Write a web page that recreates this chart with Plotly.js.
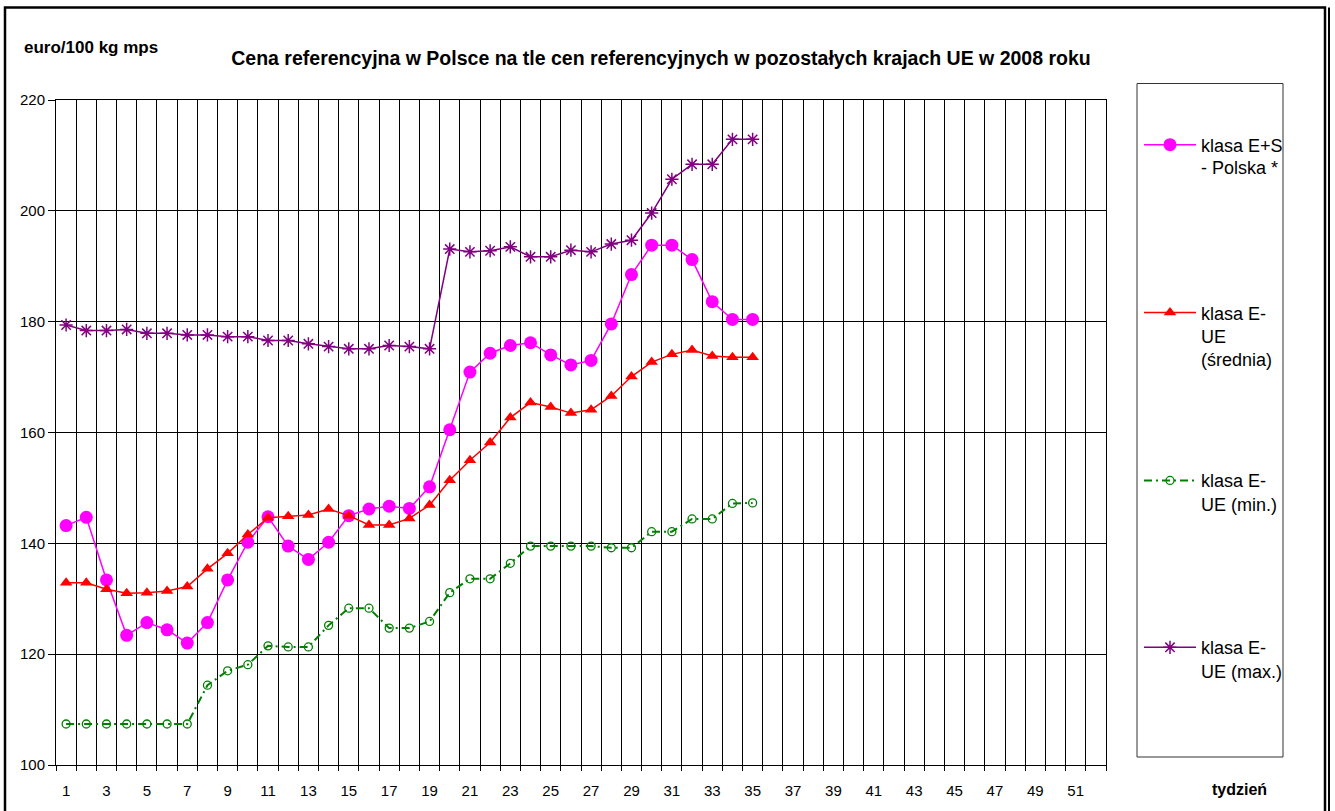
<!DOCTYPE html>
<html>
<head>
<meta charset="utf-8">
<script src="https://cdn.plot.ly/plotly-3.0.1.min.js"></script>
<style>html,body{margin:0;padding:0;background:#fff;}#chart{width:1335px;height:811px;}</style>
</head>
<body>
<div id="chart"></div>
<script>
// ---- data ----
const weeks = [1,2,3,4,5,6,7,8,9,10,11,12,13,14,15,16,17,18,19,20,21,22,23,24,25,26,27,28,29,30,31,32,33,34,35];
const polska = [143.2,144.7,133.4,123.4,125.7,124.4,122.0,125.7,133.4,140.2,144.8,139.5,137.1,140.2,145.0,146.2,146.7,146.3,150.2,160.5,170.9,174.3,175.7,176.2,174.0,172.2,173.0,179.6,188.5,193.8,193.8,191.2,183.6,180.4,180.4];
const ueSrednia = [132.9,132.9,131.7,131.0,131.1,131.4,132.2,135.4,138.2,141.6,144.6,144.9,145.1,146.2,145.0,143.3,143.3,144.5,146.9,151.4,155.0,158.2,162.7,165.4,164.6,163.5,164.1,166.6,170.1,172.7,174.1,174.9,173.8,173.6,173.6];
const ueMin = [107.4,107.4,107.4,107.4,107.4,107.4,107.4,114.4,117.0,118.1,121.5,121.3,121.3,125.2,128.3,128.3,124.7,124.7,125.9,131.1,133.6,133.6,136.4,139.5,139.5,139.5,139.5,139.2,139.2,142.1,142.1,144.4,144.4,147.2,147.3];
const ueMax = [179.4,178.4,178.4,178.6,177.9,177.9,177.6,177.6,177.3,177.3,176.6,176.6,176.0,175.5,175.1,175.1,175.7,175.5,175.1,193.1,192.6,192.8,193.5,191.7,191.7,192.9,192.6,194.0,194.7,199.6,205.7,208.4,208.4,212.9,212.9];
const tickWeeks = [1,3,5,7,9,11,13,15,17,19,21,23,25,27,29,31,33,35,37,39,41,43,45,47,49,51];
const legendFirst = ["klasa E+S", "klasa E-", "klasa E-", "klasa E-"];
const legendRest = ["- Polska *", "UE<br>(średnia)", "UE (min.)", "UE (max.)"];
const chartTitle = "Cena referencyjna w Polsce na tle cen referencyjnych w pozostałych krajach UE w 2008 roku";
const yUnit = "euro/100 kg mps";
const xUnit = "tydzień";

// ---- geometry helpers (pixel -> paper) ----
const L = 56, R = 1106, T = 99.5, B = 765;
const px = x => (x - L) / (R - L);
const py = y => (B - y) / (B - T);
const FONT = "Liberation Sans, Arial, sans-serif";

const traces = [
  {x: weeks, y: polska, name: legendFirst[0], mode: "lines+markers", legend: "legend",
   line: {color: "#FF00FF", width: 1.5}, marker: {symbol: "circle", size: 13, color: "#FF00FF"}},
  {x: weeks, y: ueSrednia, name: legendFirst[1], mode: "lines+markers", legend: "legend2",
   line: {color: "#FF0000", width: 1.5}, marker: {symbol: "triangle-up", size: 11, color: "#FF0000"}},
  {x: weeks, y: ueMin, name: legendFirst[2], mode: "lines+markers", legend: "legend3",
   line: {color: "#008000", width: 2, dash: "8px,4px,2px,4px"},
   marker: {symbol: "circle-open", size: 8, color: "#008000", line: {width: 1.3}}},
  {x: weeks, y: ueMax, name: legendFirst[3], mode: "lines+markers", legend: "legend4",
   line: {color: "#800080", width: 1.5}, marker: {symbol: "asterisk-open", size: 11, color: "#800080", line: {width: 1.5, color: "#800080"}}}
];

const itemY = [145, 313, 481, 648];
const restY = [168, 337, 505, 672];
const annotations = [
  {text: "<b>" + yUnit + "</b>", x: px(22), y: py(47), xref: "paper", yref: "paper", xanchor: "left", yanchor: "middle", showarrow: false, font: {family: FONT, size: 17, color: "#000"}},
  {text: "<b>" + xUnit + "</b>", x: px(1210), y: py(790), xref: "paper", yref: "paper", xanchor: "left", yanchor: "middle", showarrow: false, font: {family: FONT, size: 16, color: "#000"}}
];
legendRest.forEach((t, i) => {
  annotations.push({text: t, x: px(1199), y: py(restY[i] - 12), xref: "paper", yref: "paper", xanchor: "left", yanchor: "top", align: "left", showarrow: false, font: {family: FONT, size: 18, color: "#000"}});
});

const shapes = [
  // outer frame
  {type: "rect", xref: "paper", yref: "paper", x0: px(5), x1: px(1325), y0: py(830), y1: py(7), line: {color: "#000", width: 2.5}},
  {type: "line", xref: "paper", yref: "paper", x0: px(1329), x1: px(1329), y0: py(830), y1: py(7), line: {color: "#000", width: 2}},
  // legend box
  {type: "rect", xref: "paper", yref: "paper", x0: px(1137), x1: px(1283), y0: py(757), y1: py(83), line: {color: "#333", width: 1}}
];

const legendBase = yTop => ({x: px(1139), y: py(yTop), xanchor: "left", yanchor: "top",
  font: {family: FONT, size: 18, color: "#000"}, bgcolor: "rgba(0,0,0,0)", borderwidth: 0, itemwidth: 52});

const layout = {
  width: 1335, height: 811,
  margin: {l: L, r: 1335 - R, t: T, b: 811 - B, pad: 0},
  paper_bgcolor: "#fff", plot_bgcolor: "#fff",
  font: {family: FONT, size: 15, color: "#000"},
  title: {text: "<b>" + chartTitle + "</b>", x: px(661), xanchor: "center", xref: "paper", y: 1 - 58 / 811, yanchor: "middle", font: {family: FONT, size: 19.5, color: "#000"}},
  showlegend: true,
  legend: legendBase(itemY[0] - 19),
  legend2: legendBase(itemY[1] - 19),
  legend3: legendBase(itemY[2] - 19),
  legend4: legendBase(itemY[3] - 19),
  xaxis: {range: [0.5, 52.5], tickmode: "array", tickvals: tickWeeks, ticktext: tickWeeks.map(String),
          ticks: "", showgrid: false, zeroline: false, showline: true, linecolor: "#000", linewidth: 1, mirror: true,
          tickfont: {family: FONT, size: 15, color: "#000"}, ticklabelstandoff: 12,
          minor: {tick0: 0.5, dtick: 1, ticks: "outside", ticklen: 5, tickcolor: "#000", showgrid: true, gridcolor: "#000", gridwidth: 1}},
  yaxis: {range: [100, 220], tick0: 100, dtick: 20, ticks: "outside", ticklen: 7, tickcolor: "#000",
          showgrid: true, gridcolor: "#000", gridwidth: 1, zeroline: false, showline: true, linecolor: "#000", linewidth: 1, mirror: true,
          tickfont: {family: FONT, size: 15, color: "#000"}},
  annotations: annotations,
  shapes: shapes
};

Plotly.newPlot("chart", traces, layout, {staticPlot: true, displayModeBar: false});
</script>
</body>
</html>
